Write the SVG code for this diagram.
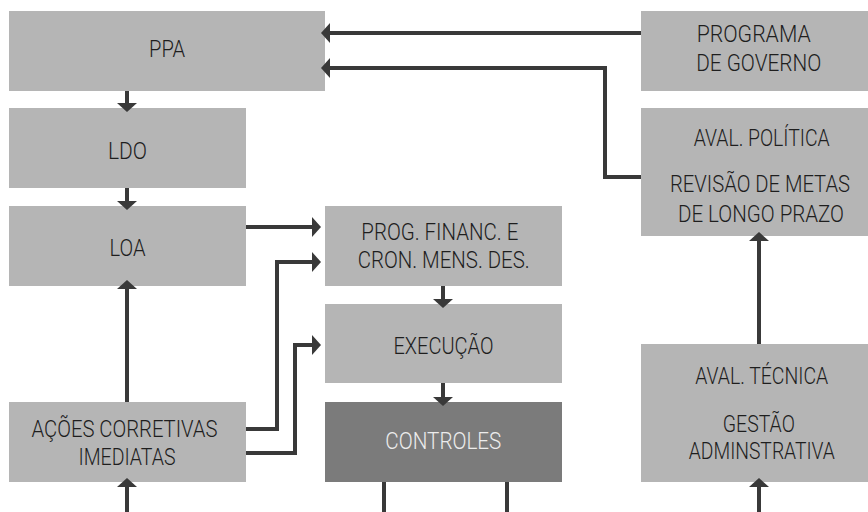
<svg xmlns="http://www.w3.org/2000/svg" width="868" height="512" viewBox="0 0 868 512">
<style>
.box{fill:#b5b5b5}
.dark{fill:#7b7b7b}
text{font-family:Roboto,"Liberation Sans",sans-serif;font-weight:300;font-size:24px;fill:#1e1e1e;text-anchor:middle}
.light{fill:#ececec}
.c{fill:none;stroke:#393939;stroke-width:4;stroke-linejoin:miter}
</style>
<defs>
<marker id="ah" markerUnits="userSpaceOnUse" markerWidth="14" markerHeight="22" refX="4" refY="11" orient="auto" overflow="visible">
<path d="M0,1 L9,11 L0,21 z" fill="#393939"/>
</marker>
</defs>
<rect width="868" height="512" fill="#ffffff"/>
<g id="ppa"><rect class="box" x="9" y="11" width="316" height="80"/><text transform="matrix(0.8,0,0,1,167,56.5)" textLength="45" lengthAdjust="spacingAndGlyphs">PPA</text></g>
<g id="ldo"><rect class="box" x="9" y="108" width="237" height="80"/><text transform="matrix(0.8,0,0,1,127.5,159.3)" textLength="48.75" lengthAdjust="spacingAndGlyphs">LDO</text></g>
<g id="loa"><rect class="box" x="9" y="206" width="237" height="80"/><text transform="matrix(0.8,0,0,1,127.5,255.7)" textLength="45" lengthAdjust="spacingAndGlyphs">LOA</text></g>
<g id="acoes"><rect class="box" x="9" y="402" width="237" height="80"/><text transform="matrix(0.8,0,0,1,124.5,436.7)" textLength="232.5" lengthAdjust="spacingAndGlyphs">AÇÕES CORRETIVAS</text><text transform="matrix(0.8,0,0,1,127,465)" textLength="121.25" lengthAdjust="spacingAndGlyphs">IMEDIATAS</text></g>
<g id="prog"><rect class="box" x="325" y="206" width="237" height="80"/><text transform="matrix(0.8,0,0,1,439.8,240)" textLength="196.25" lengthAdjust="spacingAndGlyphs">PROG. FINANC. E</text><text transform="matrix(0.8,0,0,1,443.7,268.3)" textLength="215" lengthAdjust="spacingAndGlyphs">CRON. MENS. DES.</text></g>
<g id="execucao"><rect class="box" x="325" y="304" width="237" height="79"/><text transform="matrix(0.8,0,0,1,443.5,354.3)" textLength="125" lengthAdjust="spacingAndGlyphs">EXECUÇÃO</text></g>
<g id="controles"><rect class="dark" x="325" y="402" width="237" height="80"/><text class="light" transform="matrix(0.8,0,0,1,443.3,449)" textLength="145" lengthAdjust="spacingAndGlyphs">CONTROLES</text></g>
<g id="programa"><rect class="box" x="641" y="11" width="227" height="80"/><text transform="matrix(0.8,0,0,1,753.7,41.7)" textLength="142.5" lengthAdjust="spacingAndGlyphs">PROGRAMA</text><text transform="matrix(0.8,0,0,1,758.7,71)" textLength="156.25" lengthAdjust="spacingAndGlyphs">DE GOVERNO</text></g>
<g id="avalpolitica"><rect class="box" x="641" y="108" width="227" height="128"/><text transform="matrix(0.8,0,0,1,761.7,145.7)" textLength="170" lengthAdjust="spacingAndGlyphs">AVAL. POLÍTICA</text><text transform="matrix(0.8,0,0,1,760,192.3)" textLength="225" lengthAdjust="spacingAndGlyphs">REVISÃO DE METAS</text><text transform="matrix(0.8,0,0,1,761,221.7)" textLength="207.5" lengthAdjust="spacingAndGlyphs">DE LONGO PRAZO</text></g>
<g id="avaltecnica"><rect class="box" x="641" y="344" width="227" height="138"/><text transform="matrix(0.8,0,0,1,761.7,384)" textLength="166.25" lengthAdjust="spacingAndGlyphs">AVAL. TÉCNICA</text><text transform="matrix(0.8,0,0,1,758.8,431.7)" textLength="90" lengthAdjust="spacingAndGlyphs">GESTÃO</text><text transform="matrix(0.8,0,0,1,761.8,459.3)" textLength="182.5" lengthAdjust="spacingAndGlyphs">ADMINSTRATIVA</text></g>
<g id="connectors">
<path class="c" d="M641,33 H326" marker-end="url(#ah)"/>
<path class="c" d="M641,177 H605 V68 H326" marker-end="url(#ah)"/>
<path class="c" d="M127,91 V107" marker-end="url(#ah)"/>
<path class="c" d="M127,188 V205" marker-end="url(#ah)"/>
<path class="c" d="M246,227 H316" marker-end="url(#ah)"/>
<path class="c" d="M246,429 H277 V262 H316" marker-end="url(#ah)"/>
<path class="c" d="M246,453 H295 V345 H316" marker-end="url(#ah)"/>
<path class="c" d="M443,286 V303" marker-end="url(#ah)"/>
<path class="c" d="M443,383 V401" marker-end="url(#ah)"/>
<path class="c" d="M127,402 V285" marker-end="url(#ah)"/>
<path class="c" d="M127,512 V483" marker-end="url(#ah)"/>
<path class="c" d="M384,482 V512"/>
<path class="c" d="M507,482 V512"/>
<path class="c" d="M759,344 V237" marker-end="url(#ah)"/>
<path class="c" d="M759,512 V483" marker-end="url(#ah)"/>
</g>
</svg>
